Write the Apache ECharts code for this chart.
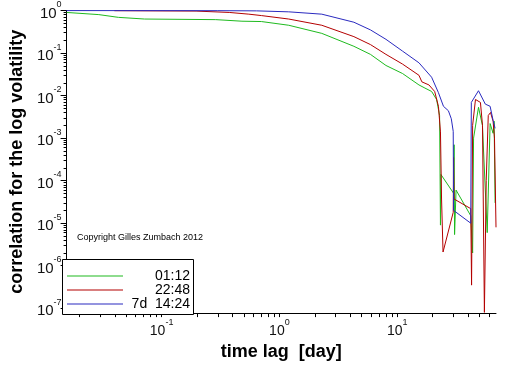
<!DOCTYPE html>
<html>
<head>
<meta charset="utf-8">
<script src="https://cdn.jsdelivr.net/npm/echarts@6/dist/echarts.min.js"></script>
<style>
html, body { margin: 0; padding: 0; background: #fff; }
#chart { width: 512px; height: 366px; }
</style>
</head>
<body>
<div id="chart"></div>
<script>
// legend names
var seriesNames = ['01:12', '22:48', '7d  14:24'];

// [time lag (day), correlation]
var greenData = [
    [0.0156, 0.90], [0.0293, 0.80], [0.0429, 0.69], [0.0717, 0.63], [0.288, 0.61],
    [0.481, 0.56], [0.703, 0.55], [1.2, 0.45], [2.29, 0.29], [4.29, 0.144],
    [5.93, 0.093], [8.03, 0.051], [11.1, 0.033], [15.3, 0.0178], [17.2, 0.015],
    [19.6, 0.0125], [21.6, 0.0081], [22.9, 0.0034], [23.3, 9e-6], [23.5, 1.4e-4],
    [30.2, 5e-5], [30.4, 7e-4], [30.7, 5.4e-6], [31.6, 6e-5], [42.1, 1.5e-5],
    [43.7, 2e-6], [44.5, 0.001], [49, 0.0053], [52.9, 0.002], [58.1, 6e-6],
    [61.5, 0.0022], [65.2, 0.0013], [66.5, 0.0025], [67.8, 3e-5]
];
var redData = [
    [0.0397, 0.99], [0.196, 0.97], [0.375, 0.90], [0.55, 0.82], [0.703, 0.76],
    [1.2, 0.63], [2.29, 0.45], [4.29, 0.243], [5.93, 0.158], [8.03, 0.093],
    [11.1, 0.055], [15.3, 0.030], [16.2, 0.021], [18.6, 0.0178], [20.8, 0.0125],
    [22.4, 0.0056], [23.3, 0.0014], [23.8, 3.7e-5], [24.5, 2.1e-6], [29.9, 1.8e-5],
    [30.1, 3.5e-4], [30.4, 3.7e-5], [42.1, 2.2e-5], [42.8, 3.5e-7], [43.7, 0.002],
    [46.2, 0.0081], [50.9, 0.0069], [53, 0.002], [55, 8e-8], [57, 1e-4],
    [59.3, 0.0034], [62, 0.004], [65.2, 0.0025], [67, 0.001], [69, 8e-6]
];
var blueData = [
    [0.0156, 0.995], [0.3, 0.99], [0.64, 0.98], [1.2, 0.93], [2.29, 0.82],
    [4.29, 0.53], [5.93, 0.35], [8.03, 0.21], [11.1, 0.111], [15.3, 0.059],
    [19.6, 0.027], [22.4, 0.0117], [24.7, 0.0056], [27.2, 0.0044], [28.8, 0.00285],
    [29.9, 0.00144], [30.1, 2e-5], [42.1, 1e-5], [42.6, 0.0069], [49, 0.013],
    [56, 0.0063], [61.5, 0.0056], [65.2, 0.0026], [67.8, 0.0017]
];

// axis decades (labelled ticks)
var xDecades = [0.1, 1, 10];
var yDecades = [1e-7, 1e-6, 1e-5, 1e-4, 1e-3, 1e-2, 1e-1, 1];

function minorsOf(decades) {
    var out = [];
    for (var i = 0; i < decades.length; i++) {
        for (var k = 1; k <= 9; k++) out.push(+(k * decades[i]).toPrecision(3));
    }
    return out;
}
var xTicks = minorsOf([0.01, 0.1, 1, 10]).filter(function (v) { return v >= 0.0156 && v <= 69; });
var yMinor = minorsOf([1e-8, 1e-7, 1e-6, 1e-5, 1e-4, 1e-3, 1e-2, 1e-1]).filter(function (v) {
    return v >= 7.7e-8 && v < 1 && yDecades.indexOf(v) < 0;
});

function powLabel(v) {
    var e = Math.round(Math.log(v) / Math.LN10);
    return '{b|10}{s|' + e + '}';
}
function richLab(size) {
    return {
        b: { fontSize: size, fontFamily: 'Liberation Sans', color: '#111', padding: [6, 0, 0, 0] },
        s: { fontSize: 9, fontFamily: 'Liberation Sans', color: '#111', verticalAlign: 'top' }
    };
}

var dom = document.getElementById('chart');
var myChart = echarts.init(dom);
var option = {
    animation: false,
    textStyle: { fontFamily: 'Liberation Sans' },
    title: {
        text: 'Copyright Gilles Zumbach 2012',
        left: 77, top: 233, padding: 0,
        textStyle: { fontSize: 9, fontWeight: 'normal', color: '#000', fontFamily: 'Liberation Sans' }
    },
    // legend frame
    graphic: [{
        type: 'rect',
        left: 62, top: 259,
        shape: { width: 131, height: 55 },
        style: { fill: '#fff', stroke: '#000', lineWidth: 1 },
        z: 5
    }],
    grid: { left: 55, right: 16, top: 8, bottom: 45 },
    legend: {
        orient: 'vertical',
        left: 67, top: 269,
        padding: 0,
        itemGap: 0,
        itemWidth: 56, itemHeight: 1,
        icon: 'rect',
        z: 10,
        data: seriesNames,
        formatter: function (name) { return '{a|' + name + '}'; },
        textStyle: {
            rich: { a: { width: 62, align: 'right', fontSize: 14, lineHeight: 15.5, color: '#000', fontFamily: 'Liberation Sans' } }
        }
    },
    xAxis: {
        type: 'log',
        min: 0.0156, max: 69,
        name: 'time lag  [day]',
        nameLocation: 'middle',
        nameGap: 27,
        nameTextStyle: { fontSize: 18, fontWeight: 'bold', color: '#000', fontFamily: 'Liberation Sans' },
        axisLine: { lineStyle: { color: '#000', width: 1 } },
        axisTick: { customValues: xTicks, length: 4, lineStyle: { color: '#000' } },
        axisLabel: { customValues: xDecades, margin: 5, formatter: powLabel, rich: richLab(14) },
        splitLine: { show: false }
    },
    yAxis: [{
        type: 'log',
        min: 7.7e-8, max: 1,
        name: 'correlation for the log volatility',
        nameLocation: 'middle',
        nameGap: 40,
        nameTextStyle: { fontSize: 18, fontWeight: 'bold', color: '#000', fontFamily: 'Liberation Sans' },
        axisLine: { lineStyle: { color: '#000', width: 1 } },
        axisTick: { customValues: yDecades, length: 6, lineStyle: { color: '#000' } },
        axisLabel: { customValues: yDecades, margin: 5, formatter: powLabel, rich: richLab(15) },
        splitLine: { show: false }
    }, {
        type: 'log',
        position: 'left',
        min: 7.7e-8, max: 1,
        axisLine: { show: false },
        axisTick: { customValues: yMinor, length: 3, lineStyle: { color: '#000' } },
        axisLabel: { show: false },
        splitLine: { show: false }
    }],
    series: [{
        name: seriesNames[0], type: 'line', data: greenData,
        showSymbol: false, lineStyle: { width: 1, color: '#1fba1f' }, itemStyle: { color: '#1fba1f' }
    }, {
        name: seriesNames[1], type: 'line', data: redData,
        showSymbol: false, lineStyle: { width: 1, color: '#b30000' }, itemStyle: { color: '#b30000' }
    }, {
        name: seriesNames[2], type: 'line', data: blueData,
        showSymbol: false, lineStyle: { width: 1, color: '#2a2abf' }, itemStyle: { color: '#2a2abf' }
    }]
};

if (option && typeof option === 'object') {
    myChart.setOption(option, true);
}
</script>
</body>
</html>
